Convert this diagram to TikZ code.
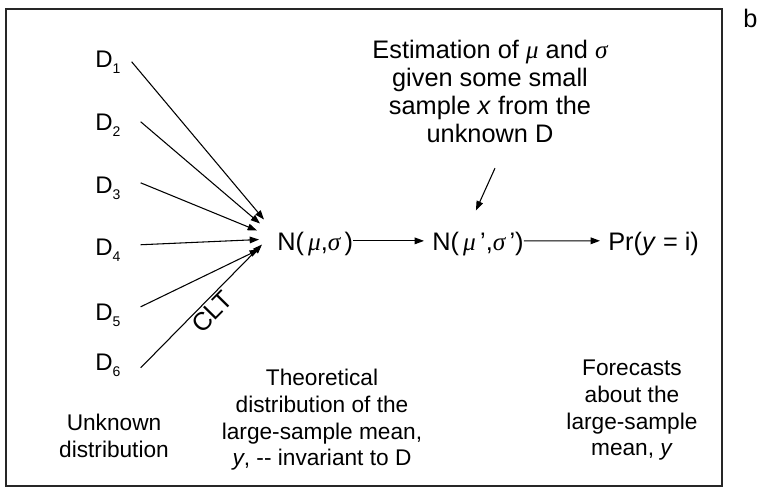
\documentclass[tikz,border=0pt]{standalone}
\usepackage{fontspec}
\setmainfont{Liberation Sans}
\newfontfamily\grkfont{Liberation Serif}
\usetikzlibrary{arrows.meta, calc}
\newcommand{\dlab}[1]{D\raisebox{-4.5pt}{\fontsize{10.5}{12}\selectfont #1}}
\newcommand{\gk}[1]{{\grkfont\itshape #1}}

\begin{document}
\begin{tikzpicture}[
  x=0.75pt, y=-0.75pt,
  txt/.style={font=\fontsize{19}{21}\selectfont, inner sep=0pt},
  small/.style={txt, font=\fontsize{17}{20}\selectfont},
  dist/.style={txt, anchor=base west},
  note/.style={txt, align=center, anchor=north},
  arr/.style={-{Triangle[length=7pt,width=5pt]}, line width=0.8pt},
]
  \useasboundingbox (0,0) rectangle (758,487);
  \draw[black!85, line width=1pt] (6,9) rectangle (722,486);
  \node[dist] (b) at (743,27) {b};

  \foreach \i/\yb in {1/67,2/130,3/193,4/255,5/320,6/370}
    \node[dist, font=\fontsize{18}{21}\selectfont] (d\i) at (95,\yb) {\dlab{\i}};

  \node[dist] (nm) at (277,250) {N(\,\gk{μ},\gk{σ}\,)};
  \node[dist] (n2) at (432,250) {N(\,\gk{μ}\,',\gk{σ}\,')};
  \node[dist] (pr) at (608,250) {Pr(\textit{y} = i)};

  \node[note] (est) at (490,40) {Estimation of \gk{μ} and \gk{σ}\\
    given some small\\sample \textit{x} from the\\unknown D};
  \node[note, small] (unk) at (114,414) {Unknown\\distribution};
  \node[note, small] (theo) at (322,369) {Theoretical\\distribution of the\\
    large-sample mean,\\\textit{y}, -{}- invariant to D};
  \node[note, small] (fore) at (632,360) {Forecasts\\about the\\large-sample\\
    mean, \textit{y}};

  \foreach \i/\sx/\sy/\ex/\ey in {1/11/0/-13/-24, 2/20/-3/-17/-20,
      3/20/-5/-20/-13, 4/20/-5/-18/-4, 5/20/-8/-18/6}
    \draw[arr] ($(d\i.east)+(\sx,\sy)$) -- ($(nm.west)+(\ex,\ey)$);
  \draw[arr] ($(d6.east)+(20,3)$) -- ($(nm.west)+(-15,1)$)
    node[txt, sloped, below, pos=0.52, inner sep=1.5pt] (clt) {CLT};

  \draw[arr, shorten >=6pt] ([yshift=2pt]nm.east) -- ([yshift=2pt]n2.west);
  \draw[arr, shorten >=6pt] ([yshift=2pt]n2.east) -- ([yshift=2pt]pr.west);
  \draw[arr] ($(est.south)+(5,25)$) -- ($(n2.north)+(-2,-21)$);
\end{tikzpicture}
\end{document}
